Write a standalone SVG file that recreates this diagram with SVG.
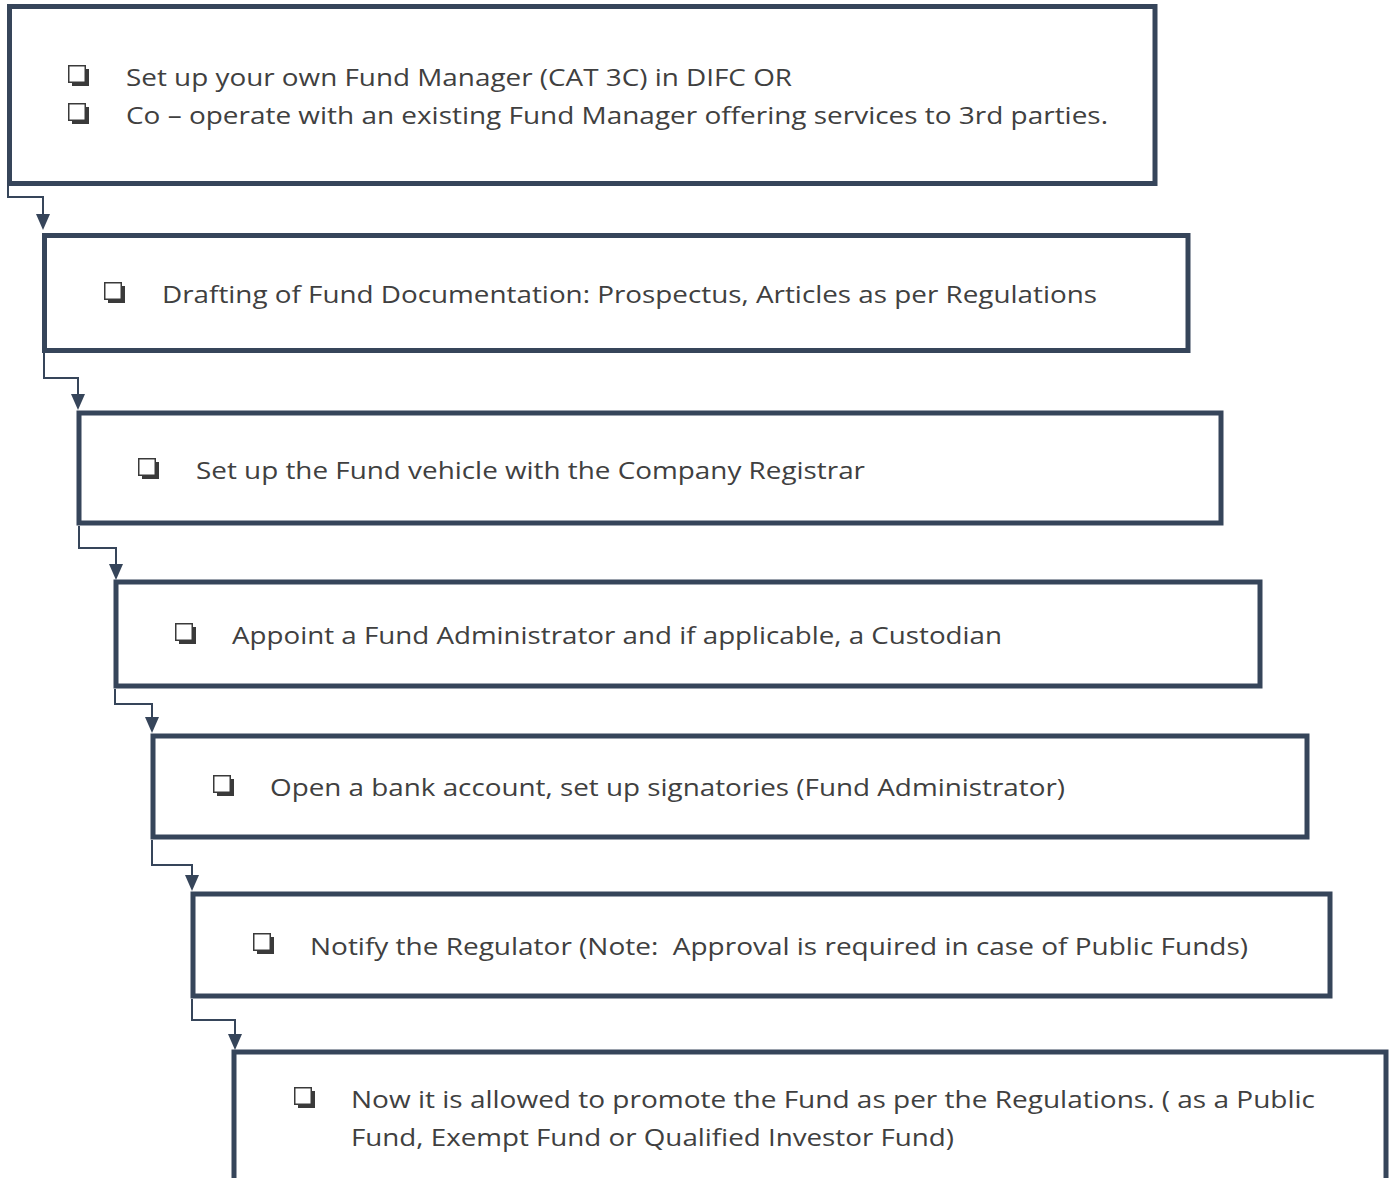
<svg xmlns="http://www.w3.org/2000/svg" width="1393" height="1178" viewBox="0 0 1393 1178">
<style>
.box{fill:#fff;stroke:#36455a;stroke-width:5}
.con{fill:none;stroke:#36455a;stroke-width:2}
.ah{fill:#36455a}
.t{font-family:"Open Sans","Noto Sans",sans-serif;font-size:24px;fill:#404040;white-space:pre}
.cbw{fill:#fff;stroke:#3a3a3a;stroke-width:1.5}
.cbs{fill:#3a3a3a}
</style>
<defs>
<g id="cb">
<rect class="cbs" x="4" y="4" width="17" height="17"/>
<rect class="cbw" x="0.75" y="0.75" width="16.5" height="16.5"/>
</g>
</defs>
<rect width="1393" height="1178" fill="#fff"/>
<g id="connectors">
<path class="con" d="M8 186 V197 H43 V216"/>
<polygon class="ah" points="36,214 50,214 43,230"/>
<path class="con" d="M44 353 V378 H78 V396"/>
<polygon class="ah" points="71,394 85,394 78,410"/>
<path class="con" d="M79 526 V548 H116 V566"/>
<polygon class="ah" points="109,564 123,564 116,580"/>
<path class="con" d="M115 689 V704 H152 V719"/>
<polygon class="ah" points="145,717 159,717 152,733"/>
<path class="con" d="M152 840 V865 H192 V877"/>
<polygon class="ah" points="185,875 199,875 192,891"/>
<path class="con" d="M192 999 V1020 H235 V1036"/>
<polygon class="ah" points="228,1034 242,1034 235,1050"/>
</g>
<g id="node1">
<rect class="box" x="9.5" y="6.5" width="1145.5" height="177"/>
<use href="#cb" x="68" y="65"/>
<use href="#cb" x="68" y="103"/>
<text class="t" x="126" y="86" textLength="666" lengthAdjust="spacingAndGlyphs">Set up your own Fund Manager (CAT 3C) in DIFC OR</text>
<text class="t" x="126" y="124" textLength="982" lengthAdjust="spacingAndGlyphs">Co – operate with an existing Fund Manager offering services to 3rd parties.</text>
</g>
<g id="node2">
<rect class="box" x="44.5" y="235.5" width="1143.5" height="115"/>
<use href="#cb" x="104" y="282"/>
<text class="t" x="162" y="303" textLength="935" lengthAdjust="spacingAndGlyphs">Drafting of Fund Documentation: Prospectus, Articles as per Regulations</text>
</g>
<g id="node3">
<rect class="box" x="79" y="413" width="1142" height="110"/>
<use href="#cb" x="138" y="458"/>
<text class="t" x="196" y="479" textLength="669" lengthAdjust="spacingAndGlyphs">Set up the Fund vehicle with the Company Registrar</text>
</g>
<g id="node4">
<rect class="box" x="116" y="582" width="1144" height="104"/>
<use href="#cb" x="175" y="623"/>
<text class="t" x="232" y="644" textLength="770" lengthAdjust="spacingAndGlyphs">Appoint a Fund Administrator and if applicable, a Custodian</text>
</g>
<g id="node5">
<rect class="box" x="153" y="736" width="1154" height="101"/>
<use href="#cb" x="213" y="775"/>
<text class="t" x="270" y="796" textLength="795" lengthAdjust="spacingAndGlyphs">Open a bank account, set up signatories (Fund Administrator)</text>
</g>
<g id="node6">
<rect class="box" x="193" y="894" width="1137" height="102"/>
<use href="#cb" x="253" y="933"/>
<text class="t" x="310" y="955" textLength="938" lengthAdjust="spacingAndGlyphs">Notify the Regulator (Note:  Approval is required in case of Public Funds)</text>
</g>
<g id="node7">
<rect class="box" x="234" y="1052" width="1152" height="160"/>
<use href="#cb" x="294" y="1087"/>
<text class="t" x="351" y="1108" textLength="964" lengthAdjust="spacingAndGlyphs">Now it is allowed to promote the Fund as per the Regulations. ( as a Public</text>
<text class="t" x="351" y="1146" textLength="603" lengthAdjust="spacingAndGlyphs">Fund, Exempt Fund or Qualified Investor Fund)</text>
</g>
</svg>
